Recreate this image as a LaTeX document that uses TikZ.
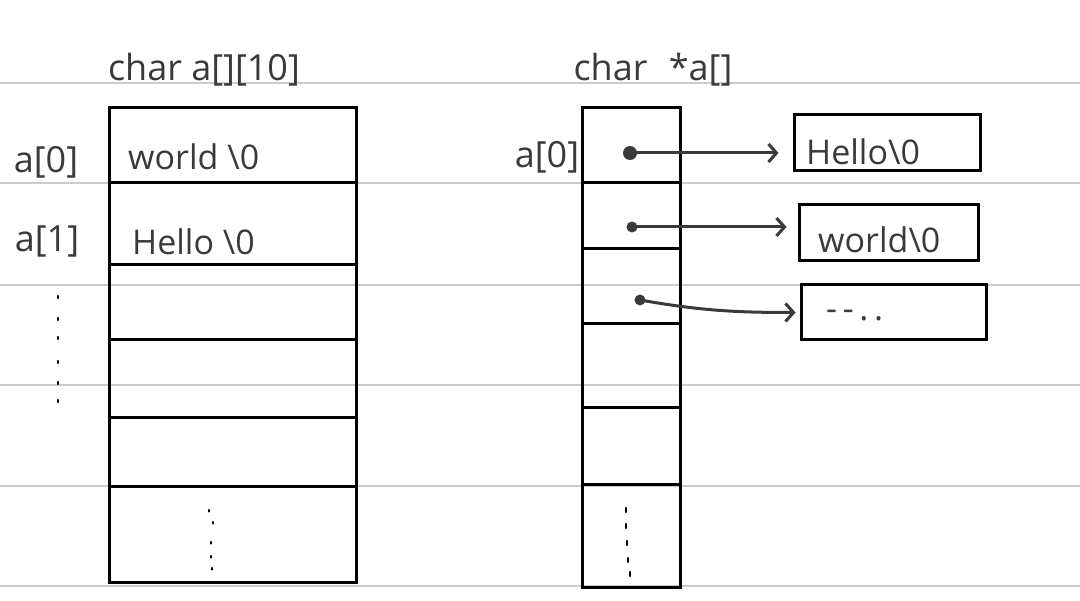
\documentclass[tikz,border=0pt]{standalone}
\usepackage{fontspec}
\setmainfont{Open Sans}
\usetikzlibrary{arrows.meta}
\definecolor{ink}{HTML}{3A3A3A}
\begin{document}
\begin{tikzpicture}[x=1pt,y=-1pt,
  rule/.style={draw=black!20,line width=1.5pt},
  cell/.style={draw=black,line width=3pt,inner sep=0pt,minimum width=#1},
  txt/.style={inner sep=0pt,font=\fontsize{36}{40}\selectfont,text=ink},
  btxt/.style={inner sep=0pt,font=\fontsize{34}{40}\selectfont,text=ink,anchor=west},
  dot/.style={circle,fill=ink,inner sep=0pt,minimum size=#1},
  arr/.style={draw=ink,line width=3pt,-{Straight Barb[length=8pt,width=18pt,line width=3pt]}},
  tick/.style={draw=black,line width=2.5pt,line cap=round}]
\useasboundingbox (0,0) rectangle (1080,601);
% ruled paper lines
\foreach \yy in {83,183,285,385,486,586}
  \draw[rule] (0,\yy) -- (1080,\yy);
% left array char a[][10]
\node[txt] (t1) at (204,70) {char a[][10]};
\node[cell=247pt,minimum height=75pt] (L0) at (232.5,145.5) {};
\node[cell=247pt,minimum height=82pt] (L1) at (232.5,224) {};
\node[cell=247pt,minimum height=75pt] (L2) at (232.5,302.5) {};
\node[cell=247pt,minimum height=78pt] (L3) at (232.5,379) {};
\node[cell=247pt,minimum height=69pt] (L4) at (232.5,452.5) {};
\node[cell=247pt,minimum height=96pt] (L5) at (232.5,535) {};
\node[txt] (la0) at (46,162) {a[0]};
\node[txt] (la1) at (47,242) {a[1]};
\node[btxt] (w0) at (128,157) {world \textbackslash 0};
\node[btxt] (h0) at (132,242) {Hello \textbackslash 0};
% vertical dots
\foreach \yy in {296,318,337,361,382,400}
  \draw[tick] (58,\yy) -- (58,\yy+2);
\foreach \yy/\xx in {510/209,522/213,542/211,556/211,568/212}
  \draw[tick] (\xx,\yy) -- (\xx,\yy+1.5);
% right array char *a[]
\node[txt] (t2) at (653,70) {char \,\,*a[]};
\node[cell=98pt,minimum height=75pt] (R0) at (631,145.5) {};
\node[cell=98pt,minimum height=66pt] (R1) at (631,216) {};
\node[cell=98pt,minimum height=75pt] (R2) at (631,286.5) {};
\node[cell=98pt,minimum height=84pt] (R3) at (631,366) {};
\node[cell=98pt,minimum height=77pt] (R4) at (631,446.5) {};
\node[cell=98pt,minimum height=103pt] (R5) at (631,536.5) {};
\node[txt] (ra0) at (547,157) {a[0]};
\foreach \yy/\xx in {508/626,524/626,541/627,558/628,572/630}
  \draw[tick] (\xx,\yy) -- (\xx,\yy+4);
% pointers
\node[dot=14pt] (d0) at (630,153) {};
\node[dot=11pt] (d1) at (632,227) {};
\node[dot=11pt] (d2) at (640,300) {};
% strings
\node[cell=186pt,minimum height=56pt] (B1) at (887,143) {};
\node[cell=179pt,minimum height=56pt] (B2) at (888.5,233) {};
\node[cell=185pt,minimum height=55pt] (B3) at (893.5,312.5) {};
\node[btxt] (s1) at (806,152) {Hello\textbackslash 0};
\node[btxt] (s2) at (818,240) {world\textbackslash 0};
\node[btxt] (s3) at (826,316) {-\,-\,.\,.};
\draw[arr,shorten >=14pt] (d0.center) -- (d0 -| B1.west);
\draw[arr,shorten >=11pt] (d1.center) -- (d1 -| B2.west);
\draw[arr,shorten >=4pt] (d2.center) to[out=-10,in=180] (B3.west);
\end{tikzpicture}
\end{document}
